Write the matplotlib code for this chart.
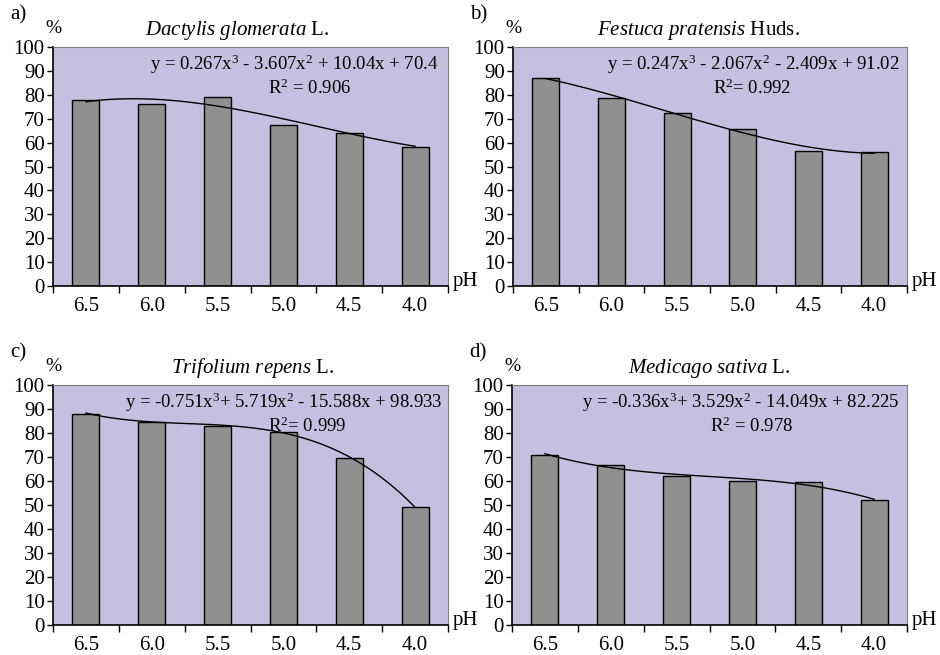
import numpy as np
import matplotlib.pyplot as plt

plt.rcParams['font.family'] = ['Liberation Serif', 'DejaVu Serif']
plt.rcParams['mathtext.fontset'] = 'custom'
plt.rcParams['mathtext.rm'] = 'Liberation Serif'
plt.rcParams['mathtext.it'] = 'Liberation Serif:italic'

ph_labels = ["6.5", "6.0", "5.5", "5.0", "4.5", "4.0"]

dactylis = [78, 76, 79, 67.5, 64, 58]
festuca = [87, 78.5, 72.5, 65.5, 56.5, 56]
trifolium = [88, 84.5, 83, 80.5, 69.5, 49]
medicago = [71, 66.5, 62, 60, 59.5, 52]

# trendline coefficients as printed on the chart (x = 1..6)
coef_a = [0.267, -3.607, 10.04, 70.4]
coef_b = [0.247, -2.067, -2.409, 91.02]
coef_c = [-0.751, 5.719, -15.588, 98.933]
coef_d = [-0.336, 3.529, -14.049, 82.225]

panels = [
    ("a)", r"$\mathit{Dactylis\ glomerata}$ L.", dactylis, coef_a,
     r"y = 0.267x$^3$ - 3.607x$^2$ + 10.04x + 70.4", r"R$^2$ = 0.906"),
    ("b)", r"$\mathit{Festuca\ pratensis}$ Huds.", festuca, coef_b,
     r"y = 0.247x$^3$ - 2.067x$^2$ - 2.409x + 91.02", r"R$^2$= 0.992"),
    ("c)", r"$\mathit{Trifolium\ repens}$ L.", trifolium, coef_c,
     r"y = -0.751x$^3$+ 5.719x$^2$ - 15.588x + 98.933", r"R$^2$= 0.999"),
    ("d)", r"$\mathit{Medicago\ sativa}$ L.", medicago, coef_d,
     r"y = -0.336x$^3$+ 3.529x$^2$ - 14.049x + 82.225", r"R$^2$ = 0.978"),
]

# layout per panel: axes rect, title x, equation right x, R2 center x
rects = [
    [53 / 940, 1 - 286 / 655, 395 / 940, 239 / 655],
    [513 / 940, 1 - 286 / 655, 394 / 940, 239 / 655],
    [53 / 940, 1 - 625 / 655, 395 / 940, 240 / 655],
    [512 / 940, 1 - 625 / 655, 395 / 940, 240 / 655],
]
title_x = [0.467, 0.47, 0.506, 0.50]
eq_x = [0.977, 0.982, 0.987, 0.982]
r2_x = [0.65, 0.607, 0.643, 0.607]

fig = plt.figure(figsize=(9.4, 6.55), dpi=100)

x = np.arange(1, 7)
xs = np.linspace(1, 6, 40)

for i, (lab, title, vals, coef, eq, r2) in enumerate(panels):
    ax = fig.add_axes(rects[i])
    ax.set_facecolor("#C4C1E0")
    ax.bar(x, vals, width=0.41, color="#8F9090", edgecolor="black", linewidth=1, zorder=2)
    ax.plot(xs, np.polyval(coef, xs), color="black", linewidth=1, zorder=3)
    ax.set_xlim(0.5, 6.5)
    ax.set_ylim(0, 100)
    ax.set_yticks(range(0, 101, 10))
    ax.set_xticks(np.arange(0.5, 7, 1))
    ax.set_xticklabels([])
    ax.set_xticks(x, minor=True)
    ax.set_xticklabels(ph_labels, minor=True)
    ax.tick_params(axis="x", which="minor", length=0, labelsize=15, pad=8)
    ax.tick_params(axis="x", which="major", length=5, width=1, direction="out")
    ax.tick_params(axis="y", length=4, width=1, direction="out", labelsize=15, pad=2)
    for side in ["top", "right"]:
        ax.spines[side].set_color("#808080")
        ax.spines[side].set_linewidth(0.8)
    for side in ["left", "bottom"]:
        ax.spines[side].set_linewidth(1.2)
    ax.text(title_x[i], 1.05, title, transform=ax.transAxes, ha="center", va="baseline",
            fontsize=15)
    ax.text(eq_x[i], 0.905, eq, transform=ax.transAxes, ha="right", va="baseline", fontsize=13.5)
    ax.text(r2_x[i], 0.805, r2, transform=ax.transAxes, ha="center", va="baseline", fontsize=13.5)
    ax.text(0.0, 1.04, "%", transform=ax.transAxes, ha="center", va="bottom", fontsize=14)
    ax.text(-0.108, 1.095, lab, transform=ax.transAxes, ha="left", va="bottom", fontsize=15)
    ax.text(1.012, 0.0, "pH", transform=ax.transAxes, ha="left", va="baseline", fontsize=15)

fig.savefig("out.png", dpi=100)
